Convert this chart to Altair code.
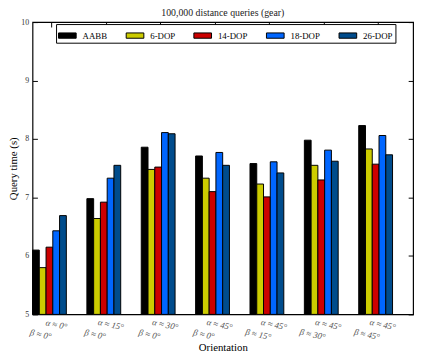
import altair as alt
import pandas as pd

orient_alpha = ["0°", "15°", "30°", "45°", "45°", "45°", "45°"]
orient_beta = ["0°", "0°", "0°", "0°", "15°", "30°", "45°"]
series = ["AABB", "6-DOP", "14-DOP", "18-DOP", "26-DOP"]
colors = ["#000000", "#cccc00", "#cc0000", "#0066ff", "#004c8c"]

aabb = [6.10, 6.98, 7.86, 7.71, 7.58, 7.98, 8.23]
dop6 = [5.80, 6.64, 7.48, 7.33, 7.23, 7.55, 7.83]
dop14 = [6.15, 6.92, 7.52, 7.10, 7.01, 7.30, 7.57]
dop18 = [6.43, 7.33, 8.11, 7.77, 7.61, 7.81, 8.06]
dop26 = [6.69, 7.55, 8.09, 7.55, 7.42, 7.62, 7.73]
y_ticks = [5, 6, 7, 8, 9, 10]

groups = [f"α ≈ {a}|β ≈ {b}" for a, b in zip(orient_alpha, orient_beta)]
vals = dict(zip(series, [aabb, dop6, dop14, dop18, dop26]))
rows = []
for s in series:
    for g, v in zip(groups, vals[s]):
        rows.append({"group": g, "series": s, "value": v})
df = pd.DataFrame(rows)

FONT = "Liberation Serif"
W, H = 388, 298

xscale = alt.Scale(domain=groups, paddingInner=0.378, paddingOuter=0.189, align=0)
yscale = alt.Scale(domain=[5, 10], zero=False, nice=False)

lab_common = dict(orient="bottom", ticks=False, domain=False, labelAngle=12,
                  labelAlign="center", labelBaseline="top", labelFont=FONT,
                  labelFontStyle="italic", labelFontSize=9, labelColor="#555555")

bars = alt.Chart(df).mark_bar(stroke="black", strokeWidth=1).encode(
    x=alt.X("group:N", scale=xscale, sort=groups,
            axis=alt.Axis(title=None, labelExpr="split(datum.label, '|')[0]",
                          labelOffset=8, labelPadding=6, **lab_common)),
    xOffset=alt.XOffset("series:N", sort=series,
                        scale=alt.Scale(domain=series, paddingInner=0, paddingOuter=0)),
    y=alt.Y("value:Q", scale=yscale,
            axis=alt.Axis(orient="left", offset=-5, tickSize=5, domain=False, grid=False,
                          values=y_ticks, labelPadding=4, labelFont=FONT, labelFontSize=8,
                          labelColor="#333333", tickColor="black",
                          title="Query time (s)", titleFont=FONT, titleFontSize=11,
                          titleFontWeight="normal", titleX=-24, titleY=149,
                          titleAngle=-90, titleAlign="center", titleBaseline="middle",
                          titleColor="black")),
    y2=alt.datum(5),
    color=alt.Color("series:N", sort=series,
                    scale=alt.Scale(domain=series, range=colors),
                    legend=alt.Legend(title=None, orient="none", legendX=24, legendY=2,
                                      direction="horizontal", columns=5,
                                      symbolType="M-1,-0.3H1V0.3H-1Z", symbolSize=324,
                                      symbolStrokeColor="black", symbolStrokeWidth=1,
                                      symbolOpacity=1,
                                      labelFont=FONT, labelFontSize=9, labelColor="black",
                                      labelOffset=6, columnPadding=16, padding=2,
                                      strokeColor="black", fillColor="white")),
)

beta_axis = alt.Chart(df).mark_point(opacity=0).encode(
    x=alt.X("group:N", scale=xscale, sort=groups,
            axis=alt.Axis(title="Orientation", labelExpr="split(datum.label, '|')[1]",
                          labelOffset=-8, labelPadding=16,
                          titleFont=FONT, titleFontSize=11, titleFontWeight="normal",
                          titleY=28, titleBaseline="top", titleColor="black",
                          **lab_common)),
    y=alt.Y("value:Q", scale=yscale, axis=None),
)

frame = alt.Chart(df).mark_point(opacity=0).encode(
    x=alt.X("group:N", scale=xscale, sort=groups,
            axis=alt.Axis(orient="top", labels=False, title=None, domain=False,
                          offset=-5, tickSize=5, tickColor="black", bandPosition=0.58)),
    y=alt.Y("value:Q", scale=yscale,
            axis=alt.Axis(orient="right", labels=False, title=None, domain=False,
                          grid=False, offset=-5, tickSize=5, tickColor="black",
                          values=y_ticks)),
)

chart = alt.layer(bars, beta_axis, frame).resolve_axis(x="independent", y="independent").properties(
    width=W, height=H,
    title=alt.TitleParams("100,000 distance queries (gear)", font=FONT, fontSize=10,
                          fontWeight="normal", offset=0, anchor="middle", color="#222222"),
    autosize=alt.AutoSizeParams(type="none"),
    padding={"left": 25, "top": 11, "right": 5, "bottom": 37},
).configure_view(stroke="black", strokeWidth=1.2).configure_axis(grid=False)

chart.save("out.html", embed_options={"renderer": "svg", "actions": False})
